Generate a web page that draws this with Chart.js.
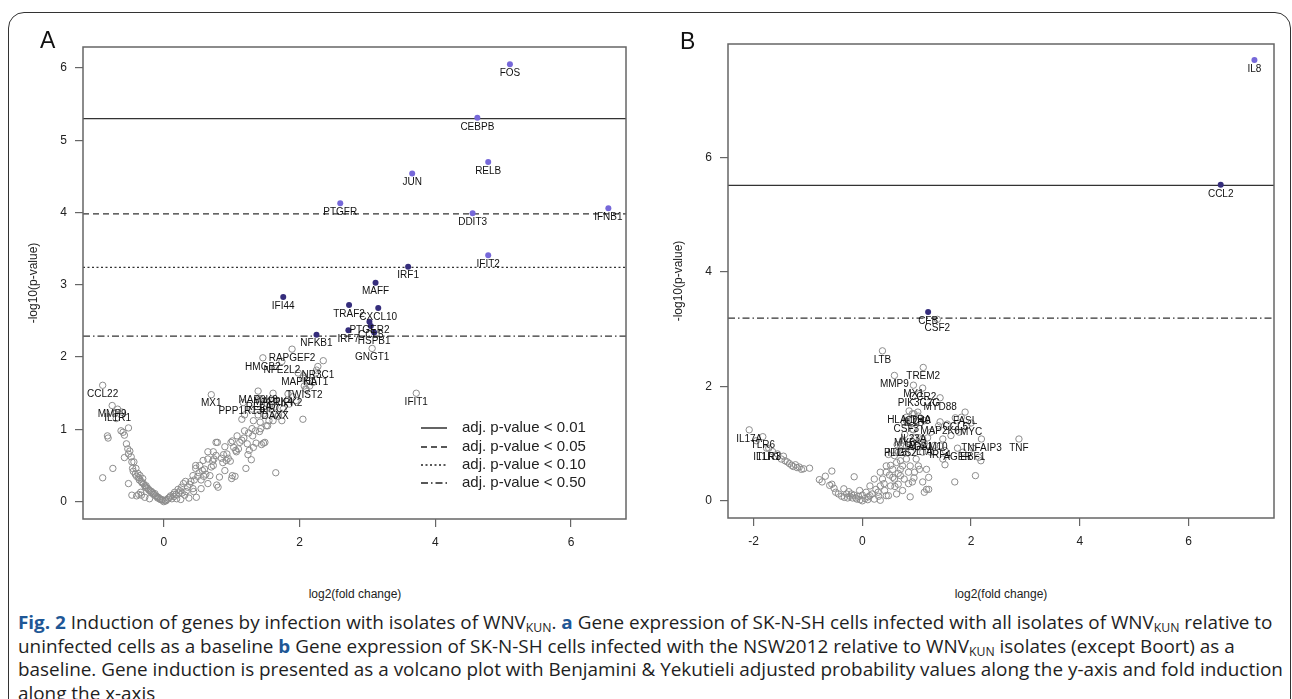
<!DOCTYPE html>
<html><head><meta charset="utf-8">
<script src="https://cdn.jsdelivr.net/npm/chart.js@4.4.0/dist/chart.umd.min.js"></script>
<style>
html,body{margin:0;padding:0;background:#fff;width:1292px;height:699px;overflow:hidden;position:relative;}
#frame{position:absolute;left:8px;top:12px;width:1283px;height:740px;border:1.5px solid #333;border-radius:16px;box-sizing:border-box;}
canvas{position:absolute;top:0;}
#cA{left:0}
#cB{left:650px}
.plab{position:absolute;font-family:'Liberation Sans',Arial,sans-serif;font-size:23px;line-height:23px;color:#111;}
.ytitle{position:absolute;font:12px 'Liberation Sans',Arial,sans-serif;color:#222;transform:translate(-50%,-50%) rotate(-90deg);white-space:nowrap;}
.xtitle{position:absolute;font:12px 'Liberation Sans',Arial,sans-serif;color:#222;transform:translate(-50%,-50%);white-space:nowrap;}
#cap{position:absolute;left:18px;top:610px;font-family:'Open Sans',sans-serif;font-size:18.5px;line-height:23.5px;color:#1e1e1e;transform-origin:0 0;}
#cap div{white-space:nowrap;}
.bb{font-weight:bold;color:#1f5796;}
sub{font-size:12px;vertical-align:-3px;line-height:0;}
</style>
</head><body>
<div id="frame"></div>
<canvas id="cA" width="650" height="560"></canvas>
<canvas id="cB" width="642" height="560"></canvas>
<div class="plab" style="left:40px;top:29px;">A</div>
<div class="plab" style="left:680px;top:30px;">B</div>
<div class="ytitle" style="left:33px;top:283px;">-log10(p-value)</div>
<div class="ytitle" style="left:678px;top:281px;">-log10(p-value)</div>
<div class="xtitle" style="left:355px;top:594px;">log2(fold change)</div>
<div class="xtitle" style="left:1001px;top:594px;">log2(fold change)</div>
<div id="cap">
<div id="l1"><span class="bb">Fig. 2</span> Induction of genes by infection with isolates of WNV<sub>KUN</sub>. <span class="bb">a</span> Gene expression of SK-N-SH cells infected with all isolates of WNV<sub>KUN</sub> relative to</div>
<div>uninfected cells as a baseline <span class="bb">b</span> Gene expression of SK-N-SH cells infected with the NSW2012 relative to WNV<sub>KUN</sub> isolates (except Boort) as a</div>
<div>baseline. Gene induction is presented as a volcano plot with Benjamini &amp; Yekutieli adjusted probability values along the y-axis and fold induction</div>
<div>along the x-axis</div>
</div>
<script>
// ---------- Panel A data ----------
const aXRange = [-1.19, 6.81];
const aYRange = [-0.24, 6.29];
const aXTicks = [0, 2, 4, 6];
const aYTicks = [0, 1, 2, 3, 4, 5, 6];
const aThresholds = [5.30, 3.98, 3.24, 2.29];
const legendLabels = ['adj. p-value < 0.01', 'adj. p-value < 0.05', 'adj. p-value < 0.10', 'adj. p-value < 0.50'];

const aLightNames = ['FOS','CEBPB','RELB','JUN','PTGFR','DDIT3','IFNB1','IFIT2'];
const aLightX = [5.10, 4.62, 4.78, 3.66, 2.60, 4.55, 6.55, 4.78];
const aLightY = [6.05, 5.31, 4.70, 4.54, 4.13, 3.99, 4.06, 3.41];

const aDarkNames = ['IRF1','MAFF','IFI44','TRAF2','CXCL10','PTGER2','CCL5','IRF7','HSPB1','NFKB1'];
const aDarkX = [3.60, 3.12, 1.76, 2.73, 3.16, 3.03, 3.05, 2.72, 3.10, 2.25];
const aDarkY = [3.25, 3.03, 2.83, 2.72, 2.68, 2.49, 2.43, 2.37, 2.34, 2.31];

const aOpenNames = ['CCL22','MMP9','IL1R1','MX1','PPP1R13L','RELA','MAP3K8','MAP2K4','BIRC2','DAXX','RIPK2','TWIST2','MAPK1','HAT1','NR3C1','HMGB2','NFE2L2','RAPGEF2','GNGT1','IFIT1'];
const aOpenX = [-0.90, -0.76, -0.68, 0.70, 1.17, 1.40, 1.39, 1.61, 1.62, 1.64, 1.83, 2.07, 1.98, 2.24, 2.27, 1.46, 1.74, 1.89, 3.07, 3.72];
const aOpenY = [1.61, 1.33, 1.28, 1.48, 1.37, 1.43, 1.53, 1.50, 1.40, 1.31, 1.49, 1.60, 1.78, 1.78, 1.87, 1.99, 1.94, 2.11, 2.12, 1.50];

const aGreyX = [
 -0.83,-0.82,-0.63,-0.52,-0.75,-0.90,-0.55,-0.53,-0.52,-0.58,
 -0.52,-0.47,-0.33,-0.44,-0.46,-0.41,-0.38,-0.35,-0.31,-0.34,
 -0.28,-0.21,-0.26,-0.23,-0.18,-0.13,-0.08,-0.03,0.00,-0.72,
 -0.70,-0.60,-0.58,-0.62,-0.50,-0.48,-0.47,-0.45,-0.42,-0.40,
 -0.37,-0.36,-0.33,-0.32,-0.30,-0.28,-0.27,-0.25,-0.22,-0.20,
 -0.19,-0.16,-0.15,-0.12,-0.10,-0.09,-0.06,-0.05,-0.02,-0.40,
 -0.37,0.02,0.09,0.14,0.16,0.21,0.26,0.29,0.32,0.19,
 0.31,0.33,0.43,0.44,0.48,0.43,0.47,0.47,0.58,0.57,
 0.59,0.65,0.68,0.70,0.73,0.74,0.77,0.77,0.78,0.80,
 0.82,0.87,0.90,0.92,0.95,0.98,1.00,1.01,1.01,1.05,
 1.06,1.07,1.10,1.12,1.15,1.15,1.21,1.23,1.24,1.26,
 1.29,1.31,1.32,1.36,1.41,1.43,1.44,1.47,1.51,1.49,
 1.65,1.61,1.74,1.69,2.05,1.39,1.19,1.32,1.76,2.09,
 2.15,2.20,2.05,2.06,1.42,1.53,1.95,1.30,1.47,1.58,
 1.64,1.42,1.53,1.30,1.19,1.08,0.99,0.90,0.79,0.73,
 0.65,0.53,0.03,0.05,0.07,0.10,0.12,0.15,0.18,0.22,
 0.24,0.27,0.35,0.38,0.40,0.45,0.50,0.52,0.55,0.60,
 0.62,0.72,0.85,0.88,0.93,1.03,1.18,1.25,1.35,1.55,
 1.68,1.85,1.90,2.10,2.35,2.25,0.37,0.25,0.55,0.65];
const aGreyY = [
 0.91,0.88,0.98,1.02,0.46,0.33,0.80,0.73,0.66,0.61,
 0.25,0.09,0.09,0.55,0.46,0.46,0.39,0.36,0.32,0.13,
 0.06,0.04,0.22,0.18,0.14,0.11,0.06,0.03,0.00,1.22,
 1.15,0.96,0.92,1.24,0.70,0.62,0.55,0.42,0.38,0.35,
 0.33,0.30,0.28,0.26,0.25,0.22,0.20,0.19,0.16,0.15,
 0.13,0.12,0.10,0.08,0.07,0.05,0.04,0.03,0.02,0.08,
 0.10,0.02,0.06,0.10,0.13,0.17,0.20,0.25,0.28,0.04,
 0.09,0.14,0.18,0.14,0.06,0.36,0.50,0.46,0.57,0.43,
 0.35,0.69,0.36,0.48,0.50,0.59,0.82,0.64,0.23,0.20,
 0.34,0.54,0.43,0.57,0.60,0.56,0.32,0.36,0.84,0.35,
 0.71,0.69,0.73,0.82,0.85,1.14,0.46,0.80,0.65,0.71,
 0.58,0.91,0.75,0.81,0.97,1.01,0.79,0.81,1.05,0.82,
 0.40,1.12,1.12,1.20,1.14,1.20,1.20,1.12,1.28,1.56,
 1.60,1.65,1.71,1.74,1.42,1.35,1.40,1.28,1.21,1.28,
 1.21,1.10,1.05,1.01,0.98,0.91,0.82,0.76,0.82,0.69,
 0.59,0.50,0.01,0.03,0.05,0.08,0.04,0.07,0.10,0.12,
 0.15,0.12,0.20,0.24,0.28,0.30,0.35,0.40,0.30,0.45,
 0.38,0.56,0.60,0.65,0.66,0.75,0.88,0.95,0.98,1.12,
 1.18,1.35,1.45,1.55,1.95,1.82,0.05,0.03,0.18,0.25];

// ---------- Panel B data ----------
const bXRange = [-2.47, 7.57];
const bYRange = [-0.30, 7.98];
const bXTicks = [-2, 0, 2, 4, 6];
const bYTicks = [0, 2, 4, 6];
const bThresholds = [5.51, 3.19];

const bLightNames = ['IL8'];
const bLightX = [7.21];
const bLightY = [7.70];
const bDarkNames = ['CCL2','CFB'];
const bDarkX = [6.59, 1.21];
const bDarkY = [5.52, 3.30];

const bOpenNames = ['CSF2','LTB','TREM2','MMP9','MX1','CCR2','PIK3C2G','MYD88','HLA-DRA','IL1B','CD40','FASL','CCL5','MYC','CSF3','MAP2K6','IL23A','MYB','ADAM10','RGS1','TNFAIP3','TNF','IRF4','LTA','AGER','EBF1','IL15','PTGS2','IL17A','TLR6','TLR3','IL1R1'];
const bOpenX = [1.38, 0.37, 1.12, 0.59, 0.94, 1.11, 1.04, 1.43, 0.86, 0.95, 1.02, 1.89, 1.71, 2.00, 0.81, 1.43, 0.94, 0.78, 1.20, 1.05, 2.19, 2.88, 1.43, 1.14, 1.75, 2.03, 0.64, 0.70, -2.08, -1.83, -1.72, -1.76];
const bOpenY = [3.17, 2.62, 2.33, 2.19, 2.02, 1.97, 1.87, 1.80, 1.57, 1.52, 1.55, 1.55, 1.45, 1.36, 1.40, 1.38, 1.24, 1.16, 1.10, 1.10, 1.08, 1.08, 0.96, 1.00, 0.92, 0.92, 0.98, 0.98, 1.24, 1.12, 0.92, 0.92];

const bGreyX = [
 -1.95,-1.65,-1.56,-1.49,-1.42,-1.34,-1.23,-1.16,-1.08,-0.97,
 -0.79,-0.68,-0.56,-0.56,-0.60,-0.49,-0.34,-0.15,-0.29,-0.20,
 -0.05,0.00,-0.23,-0.12,-1.45,-1.38,-1.30,-1.27,-1.20,-1.12,
 -0.74,-0.52,-0.44,-0.38,-0.33,-0.27,-0.18,-0.10,-0.07,-0.04,
 0.00,-0.15,-0.25,0.14,0.29,0.33,0.37,0.44,0.48,0.56,
 0.59,0.70,0.74,0.81,0.88,0.92,0.96,1.03,1.11,1.14,
 1.18,1.22,1.22,1.18,1.48,1.52,1.70,2.08,0.41,0.52,
 0.66,0.77,0.85,0.99,1.11,1.26,1.33,1.48,1.03,0.81,
 0.74,0.59,0.63,0.44,0.33,0.22,0.14,0.07,0.11,0.22,
 0.33,0.44,0.63,0.74,0.56,0.70,0.88,1.11,1.26,1.63,
 1.40,1.56,1.82,1.92,1.78,0.92,0.77,0.92,1.03,0.81,
 1.14,0.96,0.74,0.66,0.48,1.33,1.52,1.85,2.14,2.18,
 0.74,0.05,0.10,0.18,0.25,0.30,0.40,0.50,0.60,0.66,
 0.85,0.95,1.05,0.52,0.90,1.00,0.70];
const bGreyY = [
 1.05,0.86,0.82,0.73,0.70,0.65,0.63,0.59,0.56,0.57,
 0.37,0.43,0.52,0.29,0.27,0.15,0.21,0.42,0.12,0.12,
 0.18,0.10,0.08,0.05,0.78,0.68,0.62,0.60,0.58,0.55,
 0.33,0.22,0.12,0.08,0.06,0.05,0.05,0.03,0.08,0.02,
 0.00,0.10,0.16,0.09,0.15,0.26,0.38,0.50,0.09,0.55,
 0.38,0.44,0.61,0.73,0.07,0.33,0.50,0.61,0.33,0.15,
 0.20,0.41,0.20,0.55,0.73,0.63,0.33,0.44,0.18,0.26,
 0.29,0.38,0.50,0.73,0.85,0.85,0.97,1.08,0.94,0.94,
 0.85,0.79,0.67,0.61,0.50,0.38,0.26,0.15,0.07,0.03,
 0.01,0.09,0.12,0.18,0.41,0.55,0.61,1.08,1.20,1.14,
 1.31,1.34,1.46,1.31,1.20,1.25,1.37,1.52,1.48,1.46,
 1.40,1.10,1.06,0.85,0.81,0.85,0.88,0.85,0.76,0.70,
 0.96,0.04,0.02,0.12,0.20,0.08,0.30,0.45,0.25,0.48,
 0.30,0.40,0.55,0.62,0.85,1.00,0.70];

// ---------- helpers ----------
const FONT = "'Liberation Sans', Arial, sans-serif";
const pts = (xs, ys) => xs.map((x, i) => ({x: x, y: ys[i]}));
const dashes = [[], [6, 4], [2, 2.5], [7, 3, 1.5, 3]];
const GREY = '#8c8c8c', LIGHT = '#7668d9', DARK = '#352d7c', LINE = '#333';

const labelPlugin = {
  id: 'ptlabels',
  afterDatasetsDraw(chart, args, opts) {
    const ctx = chart.ctx, sx = chart.scales.x, sy = chart.scales.y;
    ctx.save();
    ctx.font = '10px ' + FONT;
    ctx.fillStyle = '#111';
    ctx.textAlign = 'center';
    ctx.textBaseline = 'middle';
    (opts.sets || []).forEach(s => s.names.forEach((n, i) => {
      ctx.fillText(n, sx.getPixelForValue(s.xs[i]), sy.getPixelForValue(s.ys[i]) + 9);
    }));
    ctx.restore();
  }
};
const boxPlugin = {
  id: 'plotbox',
  afterDraw(chart) {
    const a = chart.chartArea, ctx = chart.ctx;
    ctx.save();
    ctx.strokeStyle = '#666';
    ctx.lineWidth = 1.5;
    ctx.strokeRect(a.left, a.top, a.right - a.left, a.bottom - a.top);
    ctx.restore();
  }
};
const legendPlugin = {
  id: 'thrlegend',
  afterDraw(chart, args, opts) {
    if (!opts.labels) return;
    const a = chart.chartArea, ctx = chart.ctx;
    ctx.save();
    ctx.font = '15px ' + FONT;
    ctx.fillStyle = '#222';
    ctx.textBaseline = 'middle';
    const rows = [91, 72, 54, 36];
    opts.labels.forEach((t, i) => {
      const y = a.bottom - rows[i];
      ctx.beginPath();
      ctx.setLineDash(dashes[i]);
      ctx.strokeStyle = '#222';
      ctx.lineWidth = 1.4;
      ctx.moveTo(a.right - 205, y);
      ctx.lineTo(a.right - 179, y);
      ctx.stroke();
      ctx.setLineDash([]);
      ctx.fillText(t, a.right - 164, y);
    });
    ctx.restore();
  }
};

function thresholdSets(vals, xr, styles) {
  return vals.map((v, i) => ({
    type: 'line',
    data: [{x: xr[0], y: v}, {x: xr[1], y: v}],
    borderColor: LINE, borderWidth: 1.2, borderDash: styles[i],
    pointRadius: 0, fill: false, order: 0
  }));
}

function makeChart(id, cfg) {
  const tickFont = {family: FONT, size: 12};
  return new Chart(document.getElementById(id), {
    type: 'scatter',
    data: {datasets: [
      {data: pts(cfg.greyX, cfg.greyY), pointRadius: 3.2, pointBorderWidth: 1, pointBorderColor: GREY, pointBackgroundColor: 'rgba(0,0,0,0)'},
      {data: pts(cfg.openX, cfg.openY), pointRadius: 3.2, pointBorderWidth: 1, pointBorderColor: GREY, pointBackgroundColor: 'rgba(0,0,0,0)'},
      {data: pts(cfg.darkX, cfg.darkY), pointRadius: 3, pointBorderWidth: 0, pointBackgroundColor: DARK},
      {data: pts(cfg.lightX, cfg.lightY), pointRadius: 3, pointBorderWidth: 0, pointBackgroundColor: LIGHT}
    ].concat(thresholdSets(cfg.thr, cfg.xr, cfg.thrStyles))},
    options: {
      responsive: false, animation: false, devicePixelRatio: 1,
      layout: {padding: cfg.padding},
      plugins: {
        legend: {display: false}, tooltip: {enabled: false},
        ptlabels: {sets: cfg.labelSets},
        thrlegend: {labels: cfg.legend}
      },
      scales: {
        x: {type: 'linear', min: cfg.xr[0], max: cfg.xr[1],
            afterBuildTicks: s => { s.ticks = cfg.xt.map(v => ({value: v})); },
            afterFit: s => { s.height = cfg.xH; },
            grid: {drawOnChartArea: false, drawTicks: true, tickLength: 8, color: '#666', lineWidth: 1.2},
            border: {display: false},
            ticks: {font: tickFont, color: '#222', padding: 8, maxRotation: 0, autoSkip: false}},
        y: {type: 'linear', min: cfg.yr[0], max: cfg.yr[1],
            afterBuildTicks: s => { s.ticks = cfg.yt.map(v => ({value: v})); },
            afterFit: s => { s.width = cfg.yW; },
            grid: {drawOnChartArea: false, drawTicks: true, tickLength: 8, color: '#666', lineWidth: 1.2},
            border: {display: false},
            ticks: {font: tickFont, color: '#222', padding: 8, autoSkip: false}}
      }
    },
    plugins: [labelPlugin, boxPlugin, legendPlugin]
  });
}

makeChart('cA', {
  greyX: aGreyX, greyY: aGreyY, openX: aOpenX, openY: aOpenY,
  darkX: aDarkX, darkY: aDarkY, lightX: aLightX, lightY: aLightY,
  thr: aThresholds, thrStyles: dashes, xr: aXRange, yr: aYRange, xt: aXTicks, yt: aYTicks,
  padding: {left: 0, top: 47, right: 24, bottom: 0}, xH: 41, yW: 83,
  labelSets: [{names: aLightNames, xs: aLightX, ys: aLightY}, {names: aDarkNames, xs: aDarkX, ys: aDarkY}, {names: aOpenNames, xs: aOpenX, ys: aOpenY}],
  legend: legendLabels
});
makeChart('cB', {
  greyX: bGreyX, greyY: bGreyY, openX: bOpenX, openY: bOpenY,
  darkX: bDarkX, darkY: bDarkY, lightX: bLightX, lightY: bLightY,
  thr: bThresholds, thrStyles: [dashes[0], dashes[3]], xr: bXRange, yr: bYRange, xt: bXTicks, yt: bYTicks,
  padding: {left: 0, top: 44, right: 18, bottom: 0}, xH: 42, yW: 78,
  labelSets: [{names: bLightNames, xs: bLightX, ys: bLightY}, {names: bDarkNames, xs: bDarkX, ys: bDarkY}, {names: bOpenNames, xs: bOpenX, ys: bOpenY}],
  legend: null
});

// fit caption width to the reference's line length
(function () {
  const cap = document.getElementById('cap');
  const w = document.getElementById('l1').scrollWidth;
  cap.style.transform = 'scaleX(' + (1265 / w) + ')';
})();
</script>
</body></html>
